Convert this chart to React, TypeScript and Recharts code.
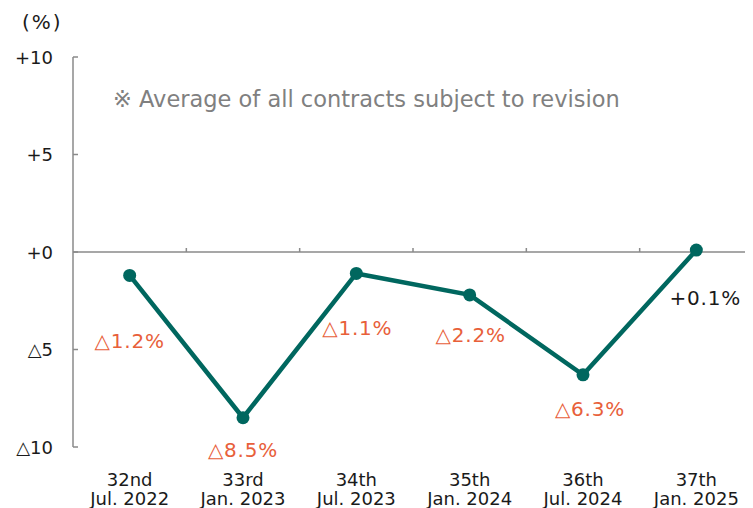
import React from 'react';
import { LineChart, Line, XAxis, YAxis, ReferenceLine } from 'recharts';

const categories = ['32nd', '33rd', '34th', '35th', '36th', '37th'];
const periods = ['Jul. 2022', 'Jan. 2023', 'Jul. 2023', 'Jan. 2024', 'Jul. 2024', 'Jan. 2025'];
const values = [-1.2, -8.5, -1.1, -2.2, -6.3, 0.1];
const yTicks = [10, 5, 0, -5, -10];
const labelTexts = ['△1.2%', '△8.5%', '△1.1%', '△2.2%', '△6.3%', '+0.1%'];
const labelOffsets = [[0, 66], [0, 32], [1, 55], [1, 40], [7, 34], [9, 48]];

const data = categories.map((c, i) => ({ name: c, period: periods[i], value: values[i] }));

const FONT = '"DejaVu Sans", Verdana, sans-serif';
const LINE_COLOR = '#00675F';
const NEG_COLOR = '#E8603A';
const AXIS_COLOR = '#8a8a8a';

const fmtY = (v: number) => (v > 0 ? `+${v}` : v === 0 ? '+0' : `△${Math.abs(v)}`);

const YTick = (props: any) => {
  const { x, y, payload } = props;
  return (
    <g>
      <text x={x} y={y} textAnchor="end" dominantBaseline="central" fontSize={18} fill="#1a1a1a" fontFamily={FONT}>
        {fmtY(payload.value)}
      </text>
      <line x1={x + 20} x2={x + 25} y1={y} y2={y} stroke={AXIS_COLOR} strokeWidth={1.5} />
    </g>
  );
};

const XTick = (props: any) => {
  const { x, y, payload, index } = props;
  const i = typeof index === 'number' ? index : categories.indexOf(payload.value);
  return (
    <g>
      <text x={x} y={y + 39} textAnchor="middle" fontSize={18} fill="#1a1a1a" fontFamily={FONT}>
        {payload.value}
      </text>
      <text x={x} y={y + 58} textAnchor="middle" fontSize={18} fill="#1a1a1a" fontFamily={FONT}>
        {periods[i]}
      </text>
    </g>
  );
};

const ZeroLine = (props: any) => {
  const { x1, y1, x2, y2 } = props;
  const n = categories.length;
  const ticks = [];
  for (let k = 1; k < n; k++) {
    const tx = x1 + ((x2 - x1) * k) / n;
    ticks.push(<line key={k} x1={tx} x2={tx} y1={y1 - 4} y2={y1} stroke={AXIS_COLOR} strokeWidth={1.5} />);
  }
  return (
    <g>
      <line x1={x1} y1={y1} x2={x2} y2={y2} stroke={AXIS_COLOR} strokeWidth={1.5} />
      {ticks}
    </g>
  );
};

const PointLabel = (props: any) => {
  const { x, y, index } = props;
  if (typeof index !== 'number') return null;
  const [dx, dy] = labelOffsets[index];
  const positive = values[index] > 0;
  return (
    <text
      x={x + dx}
      y={y + dy}
      textAnchor="middle"
      dominantBaseline="central"
      fontSize={20}
      letterSpacing={0.8}
      fill={positive ? '#1a1a1a' : NEG_COLOR}
      fontFamily={FONT}
    >
      {labelTexts[index]}
    </text>
  );
};

export default function App() {
  return (
    <div style={{ position: 'relative', width: 745, height: 500, fontFamily: FONT }}>
      <LineChart width={745} height={500} data={data} margin={{ top: 49, right: 0, bottom: 0, left: 0 }}>
        <XAxis
          dataKey="name"
          scale="band"
          axisLine={false}
          tickLine={false}
          tickSize={0}
          tickMargin={0}
          height={61}
          interval={0}
          tick={<XTick />}
        />
        <YAxis
          type="number"
          domain={[-10, 10]}
          ticks={yTicks}
          width={65}
          tickSize={0}
          tickMargin={20}
          tickLine={false}
          axisLine={{ stroke: AXIS_COLOR, strokeWidth: 1.5 }}
          tick={<YTick />}
          interval={0}
        />
        <ReferenceLine y={0} shape={<ZeroLine />} />
        <Line
          type="linear"
          dataKey="value"
          stroke={LINE_COLOR}
          strokeWidth={4.5}
          dot={{ r: 6.5, fill: LINE_COLOR, stroke: LINE_COLOR, strokeWidth: 0 }}
          isAnimationActive={false}
          label={<PointLabel />}
        />
      </LineChart>
      <div style={{ position: 'absolute', left: 14, top: 2, fontSize: 20, letterSpacing: 2, color: '#1a1a1a', fontFamily: FONT }}>(%)</div>
      <div style={{ position: 'absolute', left: 105, top: 78, fontSize: 22.5, color: '#808080', fontFamily: FONT, whiteSpace: 'nowrap' }}>
        ※ Average of all contracts subject to revision
      </div>
    </div>
  );
}
